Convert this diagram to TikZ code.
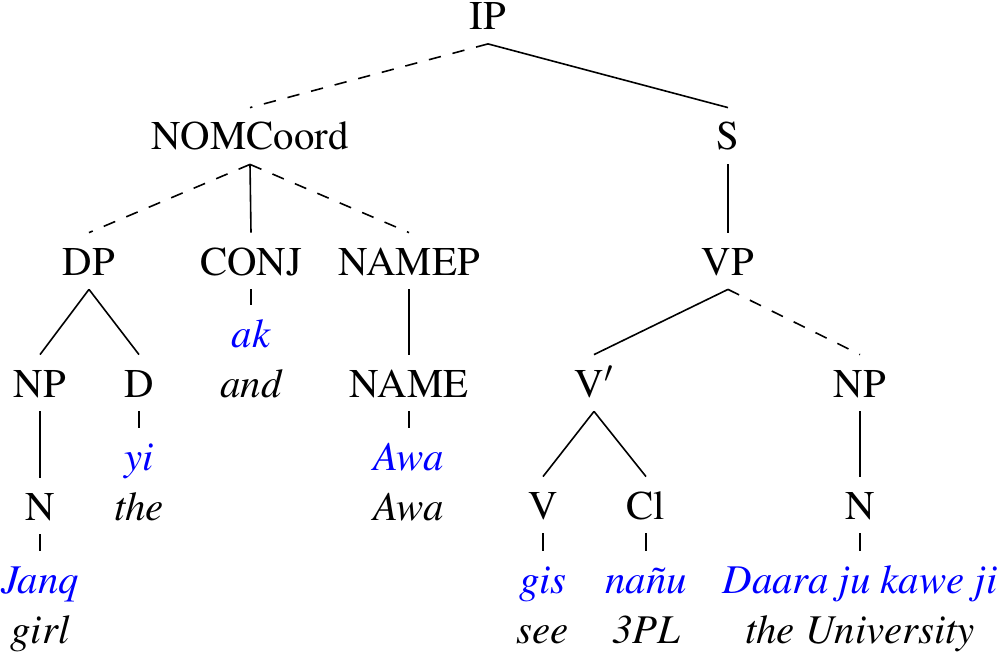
\documentclass[tikz,border=0pt]{standalone}
\usepackage[T1]{fontenc}
\usepackage{mathptmx}
\begin{document}
\begin{tikzpicture}[x=0.5pt,y=-0.5pt,
  cat/.style={anchor=base,font=\fontsize{20.4pt}{24pt}\selectfont,text height=18.5pt,text depth=4.5pt,inner ysep=2.5pt,inner xsep=0pt},
  leaf/.style={cat,text=blue,font=\fontsize{20.4pt}{24pt}\selectfont\itshape},
  gloss/.style={cat,font=\fontsize{20.4pt}{24pt}\selectfont\itshape},
  edge/.style={line width=0.8pt},
  dedge/.style={edge,dash pattern=on 6.2pt off 6pt}]
\useasboundingbox (0,0) rectangle (1000,652);
% nodes
\node[cat] (IP) at (488,29.5) {IP};
\node[cat] (NOM) at (250,150) {NOMCoord};
\node[cat] (S) at (728,150) {S};
\node[cat] (DP) at (89,275) {DP};
\node[cat] (CONJ) at (251,275) {CONJ};
\node[cat] (NAMEP) at (409,275) {NAMEP};
\node[cat] (VP) at (728,275) {VP};
\node[leaf] (ak) at (251,347) {ak};
\node[gloss] (and) at (251,397) {and};
\node[cat] (NPa) at (40,397) {NP};
\node[cat] (D) at (139,397) {D};
\node[cat] (NAME) at (409,397) {NAME};
\node[cat] (Vbar) at (594,397) {V$'$};
\node[cat] (NPb) at (860,397) {NP};
\node[leaf] (yi) at (139,470) {yi};
\node[gloss] (the) at (139,520) {the};
\node[leaf] (AwaA) at (409,470) {Awa};
\node[gloss] (AwaB) at (409,520) {Awa};
\node[cat] (Na) at (40,520) {N};
\node[cat] (V) at (543,519) {V};
\node[cat] (Cl) at (646,519) {Cl};
\node[cat] (Nb) at (860,519) {N};
\node[leaf] (Janq) at (40,593) {Janq};
\node[gloss] (girl) at (40,643) {girl};
\node[leaf] (gis) at (543,593) {gis};
\node[gloss] (see) at (543,643) {see};
\node[leaf] (nanu) at (646,593) {na\~nu};
\node[gloss] (pl) at (646,643) {3PL};
\node[leaf] (Daara) at (860,593) {Daara ju kawe ji};
\node[gloss] (Univ) at (860,643) {the University};
% edges
\draw[dedge] (IP.south) -- (NOM.north);
\draw[edge] (IP.south) -- (S.north);
\draw[dedge] (NOM.south) -- (DP.north);
\draw[edge] (NOM.south) -- (CONJ.north);
\draw[dedge] (NOM.south) -- (NAMEP.north);
\draw[edge] (S.south) -- (VP.north);
\draw[edge] (DP.south) -- (NPa.north);
\draw[edge] (DP.south) -- (D.north);
\draw[edge] (CONJ.south) -- (ak.north);
\draw[edge] (NAMEP.south) -- (NAME.north);
\draw[edge] (VP.south) -- (Vbar.north);
\draw[dedge] (VP.south) -- (NPb.north);
\draw[edge] (NPa.south) -- (Na.north);
\draw[edge] (D.south) -- (yi.north);
\draw[edge] (NAME.south) -- (AwaA.north);
\draw[edge] (Vbar.south) -- (V.north);
\draw[edge] (Vbar.south) -- (Cl.north);
\draw[edge] (NPb.south) -- (Nb.north);
\draw[edge] (Na.south) -- (Janq.north);
\draw[edge] (V.south) -- (gis.north);
\draw[edge] (Cl.south) -- (nanu.north);
\draw[edge] (Nb.south) -- (Daara.north);
\end{tikzpicture}
\end{document}
